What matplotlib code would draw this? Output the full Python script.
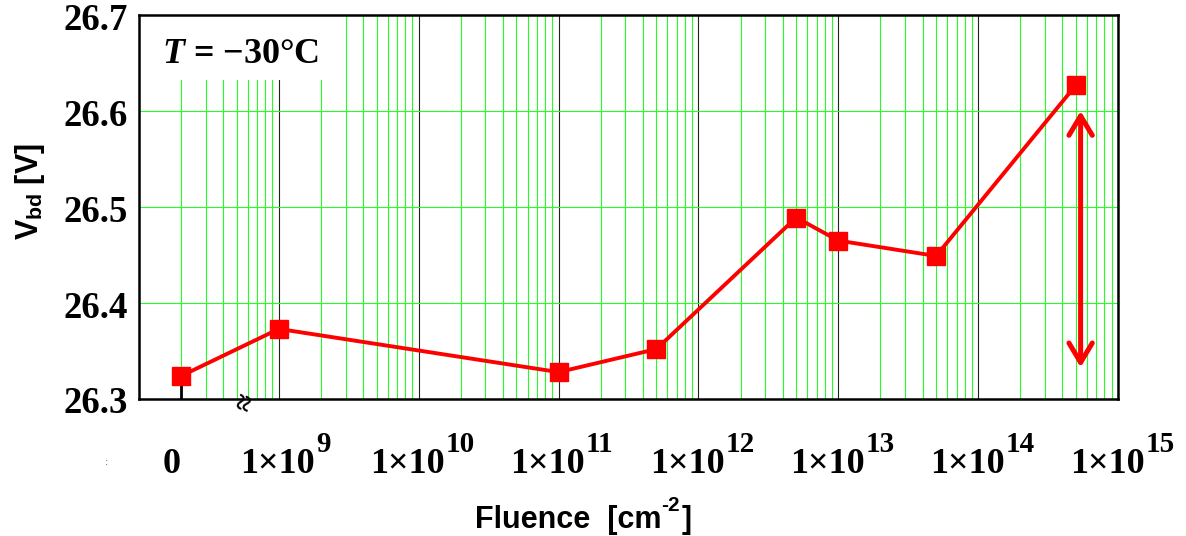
import matplotlib
matplotlib.use('Agg')
import matplotlib.pyplot as plt
from matplotlib.patches import Rectangle, FancyArrowPatch
from matplotlib.ticker import LogLocator, FixedLocator

plt.rcParams['mathtext.fontset'] = 'custom'
plt.rcParams['mathtext.rm'] = 'Liberation Serif:bold'
plt.rcParams['mathtext.it'] = 'Liberation Serif:bold:italic'
plt.rcParams['mathtext.bf'] = 'Liberation Serif:bold'
plt.rcParams['mathtext.sf'] = 'Liberation Sans:bold'

# breakdown voltage vs fluence at -30 C
fluence = [0, 1e9, 1e11, 5e11, 5e12, 1e13, 5e13, 5e14]
vbd = [26.324, 26.373, 26.328, 26.352, 26.489, 26.465, 26.449, 26.627]

# fluence 0 is drawn at this spot on the log axis
zero_pos = 2e8

xtick_pos = [1e9, 1e10, 1e11, 1e12, 1e13, 1e14, 1e15]
xtick_exp = ['9', '10', '11', '12', '13', '14', '15']
yticks = [26.3, 26.4, 26.5, 26.6, 26.7]

# spread of Vbd shown with the double arrow
spread_x = 5.4e14
spread_lo = 26.333
spread_hi = 26.600

x_plot = [f if f > 0 else zero_pos for f in fluence]

fig = plt.figure(figsize=(11.86, 5.36), dpi=100)
ax = fig.add_axes([0.1172, 0.2556, 0.8255, 0.7164])

ax.set_xscale('log')
ax.set_xlim(1e8, 1e15)
ax.set_ylim(26.3, 26.7)
ax.xaxis.set_major_locator(LogLocator(base=10, numticks=20))
ax.xaxis.set_minor_locator(LogLocator(base=10, subs=range(2, 10), numticks=20))
ax.yaxis.set_major_locator(FixedLocator(yticks))
ax.set_axisbelow(True)
ax.grid(which='minor', axis='x', color='#22ff22', lw=0.8)
ax.grid(which='major', axis='x', color='#222222', lw=0.8)
ax.grid(which='major', axis='y', color='#22ff22', lw=0.8)
ax.tick_params(which='both', length=0, labelbottom=False, labelleft=False)
for s in ax.spines.values():
    s.set_linewidth(1.8)

# white box behind the temperature note
ax.add_patch(Rectangle((0, 0.831), 0.19, 0.169, transform=ax.transAxes,
                       facecolor='white', edgecolor='none', zorder=1))
ax.text(0.0235, 0.875, r'$T$ = −30°C', transform=ax.transAxes, fontsize=26,
        family='Liberation Serif', weight='bold', va='baseline', zorder=5)

# stem under the zero-fluence point
ax.vlines(zero_pos, 26.3, vbd[0], color='black', lw=2.0, zorder=2)

ax.plot(x_plot, vbd, color='red', lw=2.8, marker='s', markersize=13.5, zorder=4)

arrow = FancyArrowPatch((spread_x, spread_lo), (spread_x, spread_hi),
                        arrowstyle='<->,head_length=0.7,head_width=0.42',
                        mutation_scale=20, color='red', lw=3.6,
                        shrinkA=0, shrinkB=0, capstyle='round', zorder=4)
ax.add_patch(arrow)

# axis break mark
ax.annotate('≈', xy=(5.9e8, 0), xycoords=('data', 'axes fraction'),
            xytext=(0, -4), textcoords='offset pixels', ha='center', va='center',
            fontsize=22, family='Liberation Serif', weight='bold', rotation=72,
            annotation_clip=False)

# x tick labels: "0" for the zero point, then 1x10^n with the exponent hung on the right
ax.annotate('0', xy=(zero_pos, 0), xycoords=('data', 'axes fraction'),
            xytext=(-9, -74), textcoords='offset pixels', ha='center',
            va='baseline', fontsize=26, family='Liberation Serif', weight='bold',
            annotation_clip=False)
for pos, e in zip(xtick_pos, xtick_exp):
    base = ax.annotate('1×10', xy=(pos, 0), xycoords=('data', 'axes fraction'),
                       xytext=(9 - 10 * len(e), -74), textcoords='offset pixels',
                       ha='center', va='baseline', fontsize=26,
                       family='Liberation Serif', weight='bold', annotation_clip=False)
    ax.annotate(e, xy=(1, 0), xycoords=base, xytext=(1, 29),
                textcoords='offset pixels', ha='left', va='baseline', fontsize=21,
                family='Liberation Serif', weight='bold', annotation_clip=False)

for v in yticks:
    ax.annotate(f'{v:.1f}', xy=(0, v), xycoords=('axes fraction', 'data'),
                xytext=(-11, -5), textcoords='offset pixels', ha='right',
                va='center', fontsize=26.5, family='Liberation Serif', weight='bold',
                annotation_clip=False)

fig.text(30 / 1186, 1 - 192 / 536, r'V$_{\mathsf{bd}}$ [V]', rotation=90,
         ha='center', va='center', fontsize=22, family='Liberation Sans', weight='bold')

# x axis title built from pieces so the exponent keeps a plain hyphen
xl = fig.text(475 / 1186, 1 - 528 / 536, 'Fluence  [cm', ha='left', va='baseline',
              fontsize=22, family='Liberation Sans', weight='bold')
sup = ax.annotate('-2', xy=(1, 0), xycoords=xl, xytext=(0, 20),
                  textcoords='offset pixels', ha='left', va='bottom', fontsize=15,
                  family='Liberation Sans', weight='bold', annotation_clip=False)
ax.annotate(']', xy=(1, 0), xycoords=sup, xytext=(1, -20),
            textcoords='offset pixels', ha='left', va='bottom', fontsize=22,
            family='Liberation Sans', weight='bold', annotation_clip=False)

fig.text(106 / 1186, 1 - 462 / 536, ':', ha='center', va='center', fontsize=7,
         color='#555555')

fig.savefig('out.png', dpi=100)
